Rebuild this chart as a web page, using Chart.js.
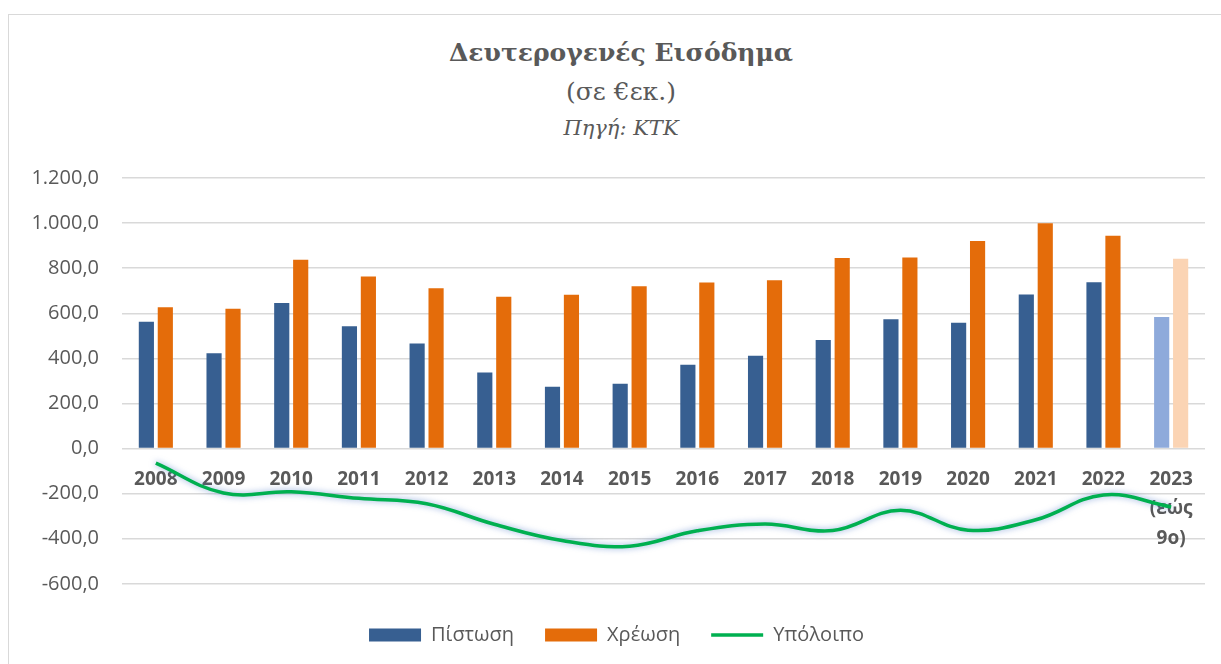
<!DOCTYPE html>
<html lang="el">
<head>
    <meta charset="UTF-8">
    <title>Δευτερογενές Εισόδημα</title>
    <style>
        body {
            margin: 0;
            background: #ffffff;
            width: 1221px;
            height: 664px;
            overflow: hidden;
            position: relative;
        }

        .frame {
            position: absolute;
            left: 8px;
            top: 14px;
            width: 1300px;
            height: 700px;
            border: 1px solid #d9d9d9;
        }

        .titles {
            position: absolute;
            left: 0;
            width: 1242px;
            top: 34px;
            text-align: center;
            font-family: "DejaVu Serif", serif;
            color: #595959;
        }

        .titles .t1 {
            font-size: 25px;
            font-weight: bold;
            line-height: 38px;
        }

        .titles .t2 {
            font-size: 25px;
            line-height: 40px;
        }

        .titles .t3 {
            font-size: 21px;
            font-style: italic;
            line-height: 32px;
        }

        .chart-box {
            position: absolute;
            left: 0;
            top: 143px;
            width: 1221px;
            height: 521px;
        }
    </style>
</head>
<body>
    <div class="frame"></div>
    <div class="titles">
        <div class="t1">Δευτερογενές Εισόδημα</div>
        <div class="t2">(σε €εκ.)</div>
        <div class="t3">Πηγή: ΚΤΚ</div>
    </div>
    <div class="chart-box">
        <canvas id="chart"></canvas>
    </div>

    <script src="https://cdn.jsdelivr.net/npm/chart.js"></script>
    <script>
        // Data
        const years = ["2008", "2009", "2010", "2011", "2012", "2013", "2014", "2015",
            "2016", "2017", "2018", "2019", "2020", "2021", "2022", ["2023", "(εώς", "9ο)"]];
        const credit = [562, 423, 645, 542, 466, 337, 274, 287, 372, 412, 481, 573, 558, 683, 738, 583];
        const debit = [627, 620, 837, 763, 711, 673, 682, 720, 737, 747, 845, 847, 920, 999, 944, 842];
        const balance = [-65, -197, -192, -221, -245, -336, -408, -433, -365, -335, -364, -274, -362, -316, -206, -259];

        const yTicks = [-600, -400, -200, 0, 200, 400, 600, 800, 1000, 1200];

        // last year is partial, lighter colours
        const blue = years.map((y, i) => i === years.length - 1 ? "#8eaadb" : "#375f91");
        const orange = years.map((y, i) => i === years.length - 1 ? "#fbd4b4" : "#e46c0a");

        // 1200 -> "1.200,0"
        function fmt(v) {
            const neg = v < 0;
            const parts = Math.abs(v).toFixed(1).split(".");
            const intPart = parts[0].replace(/\B(?=(\d{3})+(?!\d))/g, ".");
            return (neg ? "-" : "") + intPart + "," + parts[1];
        }

        // soft blue glow under the green line
        const glow = {
            id: "glow",
            beforeDatasetDraw(chart, args) {
                if (args.meta.type !== "line") return;
                const c = chart.ctx;
                c.save();
                c.shadowColor = "rgba(68, 114, 196, 0.6)";
                c.shadowBlur = 6;
            },
            afterDatasetDraw(chart, args) {
                if (args.meta.type !== "line") return;
                chart.ctx.restore();
            }
        };

        // legend sits a bit right of the plot centre in the original
        const legendShift = {
            id: "legendShift",
            afterLayout(chart) {
                chart.legend.left += 14;
                chart.legend.right += 14;
            }
        };

        const textColor = "#595959";
        const sans = "'Open Sans', sans-serif";

        const ctx = document.getElementById("chart").getContext("2d");
        new Chart(ctx, {
            type: "bar",
            data: {
                labels: years,
                datasets: [{
                    label: "Πίστωση",
                    data: credit,
                    backgroundColor: blue,
                    borderWidth: 0,
                    pointStyle: "rect",
                    categoryPercentage: 0.56,
                    barPercentage: 0.8,
                }, {
                    label: "Χρέωση",
                    data: debit,
                    backgroundColor: orange,
                    borderWidth: 0,
                    pointStyle: "rect",
                    categoryPercentage: 0.56,
                    barPercentage: 0.8,
                }, {
                    type: "line",
                    label: "Υπόλοιπο",
                    data: balance,
                    borderColor: "#00b050",
                    backgroundColor: "#00b050",
                    borderWidth: 3.5,
                    pointRadius: 0,
                    pointStyle: "line",
                    tension: 0.4,
                }],
            },
            options: {
                responsive: true,
                maintainAspectRatio: false,
                animation: false,
                layout: {
                    padding: { top: 22, right: 16, bottom: 9, left: 0 },
                },
                plugins: {
                    legend: {
                        position: "bottom",
                        title: {
                            display: true,
                            text: " ",
                            font: { size: 1 },
                            padding: { top: 9, bottom: 0 },
                        },
                        labels: {
                            usePointStyle: true,
                            pointStyleWidth: 52,
                            boxHeight: 13,
                            padding: 31,
                            color: textColor,
                            font: { family: sans, size: 20 },
                        },
                    },
                    tooltip: { enabled: false },
                },
                scales: {
                    x: {
                        position: { y: 0 },
                        grid: { display: false, drawTicks: false },
                        border: { display: false },
                        ticks: {
                            padding: 16,
                            maxRotation: 0,
                            autoSkip: false,
                            color: textColor,
                            font: { family: sans, size: 19, weight: "bold", lineHeight: 1.55 },
                        },
                    },
                    y: {
                        min: -600,
                        max: 1200,
                        afterBuildTicks: (scale) => {
                            scale.ticks = yTicks.map(v => ({ value: v }));
                        },
                        afterFit: (scale) => {
                            scale.width = 122;
                        },
                        grid: { color: "#d9d9d9", lineWidth: 1.5, drawTicks: false },
                        border: { display: false },
                        ticks: {
                            padding: 23,
                            color: textColor,
                            font: { family: sans, size: 20 },
                            callback: (v) => fmt(v),
                        },
                    },
                },
            },
            plugins: [glow, legendShift],
        });
    </script>
</body>
</html>
